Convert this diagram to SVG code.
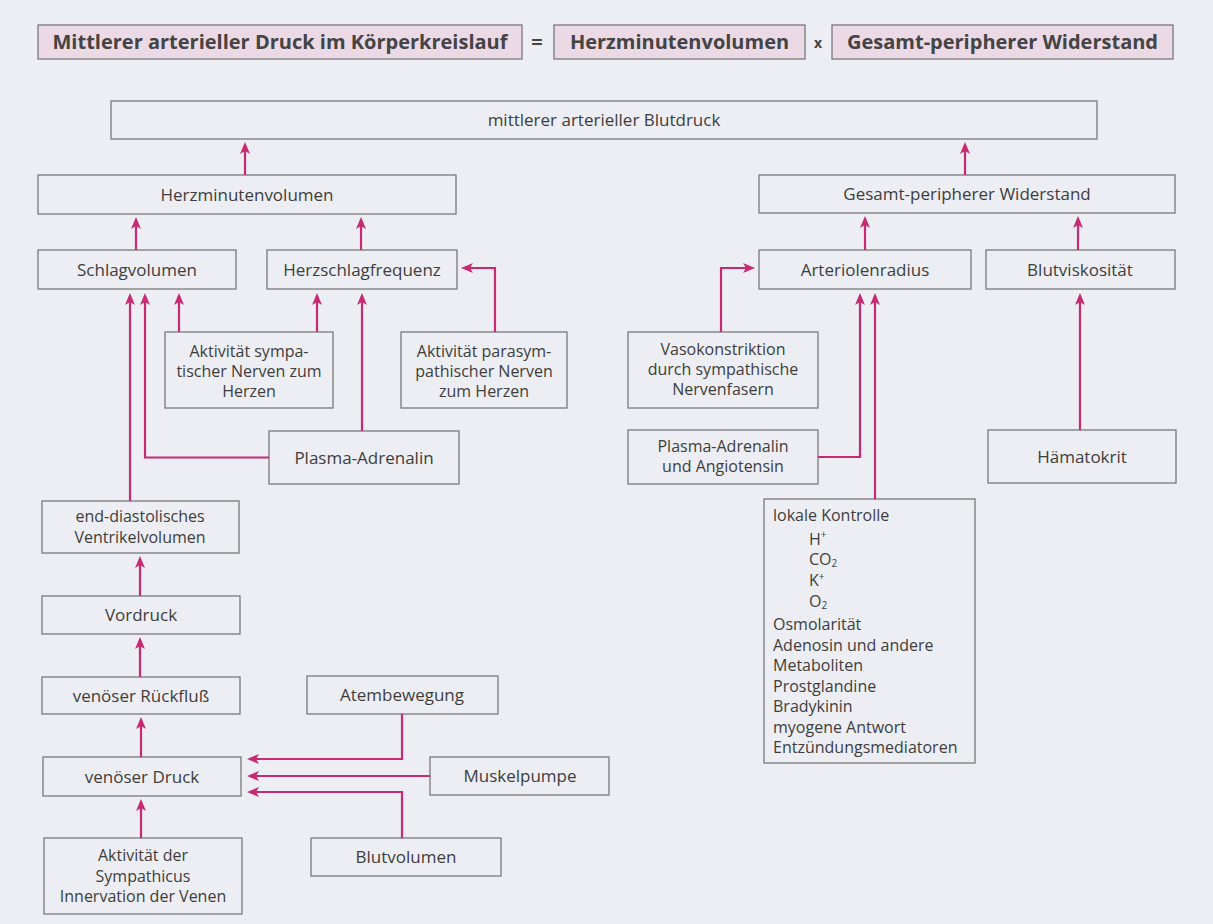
<svg xmlns="http://www.w3.org/2000/svg" width="1213" height="924" viewBox="0 0 1213 924">
<defs>
<style>
.bg{fill:#edeef3}
.box{fill:none;stroke:#707070;stroke-width:1.2}
.hbox{fill:#ebd9e6;stroke:#707070;stroke-width:1.2}
.t{font-family:"Open Sans","Liberation Sans",sans-serif;font-size:17px;fill:#3d3d3d;text-anchor:middle}
.m{font-size:16px}
.tl{font-family:"Open Sans","Liberation Sans",sans-serif;font-size:16px;fill:#3d3d3d}
.h{font-family:"Open Sans","Liberation Sans",sans-serif;font-size:20px;font-weight:bold;fill:#444;text-anchor:middle}
.c{fill:none;stroke:#c72a72;stroke-width:2.2}
.sm{font-size:10px}
</style>
<marker id="ah" viewBox="0 0 12 10" refX="9" refY="5" markerWidth="12" markerHeight="10" markerUnits="userSpaceOnUse" orient="auto">
<path d="M0,0 L12,5 L0,10 L3,5 Z" fill="#c72a72"/>
</marker>
</defs>
<rect class="bg" x="0" y="0" width="1213" height="924"/>

<g id="header">
<rect class="hbox" x="38" y="25" width="484" height="34"/>
<text class="h" x="280" y="49">Mittlerer arterieller Druck im Körperkreislauf</text>
<text class="h" x="537" y="49">=</text>
<rect class="hbox" x="554" y="25" width="251" height="34"/>
<text class="h" x="679.5" y="49">Herzminutenvolumen</text>
<text class="h" x="818" y="48" style="font-size:14px">x</text>
<rect class="hbox" x="832" y="25" width="341" height="34"/>
<text class="h" x="1002.5" y="49">Gesamt-peripherer Widerstand</text>
</g>

<g id="n-blutdruck"><rect class="box" x="111" y="101" width="986" height="38"/><text class="t" x="604" y="126">mittlerer arterieller Blutdruck</text></g>
<g id="n-hmv"><rect class="box" x="38" y="175" width="418" height="39"/><text class="t" x="247" y="200.5">Herzminutenvolumen</text></g>
<g id="n-gpw"><rect class="box" x="759" y="175" width="416" height="38"/><text class="t" x="967" y="200">Gesamt-peripherer Widerstand</text></g>
<g id="n-schlag"><rect class="box" x="38" y="250" width="198" height="39"/><text class="t" x="137" y="275.5">Schlagvolumen</text></g>
<g id="n-freq"><rect class="box" x="267" y="250" width="190" height="39"/><text class="t" x="362" y="275.5">Herzschlagfrequenz</text></g>
<g id="n-arteriolen"><rect class="box" x="759" y="250" width="212" height="39"/><text class="t" x="865" y="275.5">Arteriolenradius</text></g>
<g id="n-visk"><rect class="box" x="986" y="250" width="189" height="39"/><text class="t" x="1080" y="275.5">Blutviskosität</text></g>
<g id="n-sympa"><rect class="box" x="165" y="332" width="168" height="76"/><text class="t m" x="249" y="356.5">Aktivität sympa-</text><text class="t m" x="249" y="376.5">tischer Nerven zum</text><text class="t m" x="249" y="396.5">Herzen</text></g>
<g id="n-parasym"><rect class="box" x="401" y="332" width="166" height="76"/><text class="t m" x="484" y="356.5">Aktivität parasym-</text><text class="t m" x="484" y="376.5">pathischer Nerven</text><text class="t m" x="484" y="396.5">zum Herzen</text></g>
<g id="n-plasma"><rect class="box" x="269" y="431" width="190" height="53"/><text class="t" x="364" y="463.5">Plasma-Adrenalin</text></g>
<g id="n-vaso"><rect class="box" x="628" y="332" width="190" height="76"/><text class="t m" x="723" y="355">Vasokonstriktion</text><text class="t m" x="723" y="375">durch sympathische</text><text class="t m" x="723" y="395">Nervenfasern</text></g>
<g id="n-plasmaang"><rect class="box" x="628" y="430" width="190" height="54"/><text class="t m" x="723" y="451.5">Plasma-Adrenalin</text><text class="t m" x="723" y="471.5">und Angiotensin</text></g>
<g id="n-haemato"><rect class="box" x="988" y="430" width="188" height="53"/><text class="t" x="1082" y="462.5">Hämatokrit</text></g>
<g id="n-lokal"><rect class="box" x="764" y="499" width="211" height="264"/>
<text class="tl" x="773" y="521">lokale Kontrolle</text>
<text class="tl" x="809" y="545">H<tspan class="sm" dy="-7">+</tspan></text>
<text class="tl" x="809" y="565">CO<tspan class="sm" dy="2">2</tspan></text>
<text class="tl" x="809" y="585.5">K<tspan class="sm" dy="-6">+</tspan></text>
<text class="tl" x="809" y="606.5">O<tspan class="sm" dy="2">2</tspan></text>
<text class="tl" x="773" y="630">Osmolarität</text>
<text class="tl" x="773" y="651">Adenosin und andere</text>
<text class="tl" x="773" y="671">Metaboliten</text>
<text class="tl" x="773" y="692">Prostglandine</text>
<text class="tl" x="773" y="712">Bradykinin</text>
<text class="tl" x="773" y="733">myogene Antwort</text>
<text class="tl" x="773" y="753">Entzündungsmediatoren</text>
</g>
<g id="n-edv"><rect class="box" x="42" y="501" width="197" height="52"/><text class="t m" x="140" y="522">end-diastolisches</text><text class="t m" x="140" y="543">Ventrikelvolumen</text></g>
<g id="n-vordruck"><rect class="box" x="42" y="596" width="198" height="38"/><text class="t" x="141" y="621">Vordruck</text></g>
<g id="n-rueckfluss"><rect class="box" x="42" y="677" width="198" height="37"/><text class="t" x="141" y="701.5">venöser Rückfluß</text></g>
<g id="n-atem"><rect class="box" x="307" y="676" width="191" height="38"/><text class="t" x="402" y="701">Atembewegung</text></g>
<g id="n-druck"><rect class="box" x="43" y="757" width="198" height="39"/><text class="t" x="142" y="782.5">venöser Druck</text></g>
<g id="n-muskel"><rect class="box" x="430" y="757" width="179" height="38"/><text class="t" x="520" y="782">Muskelpumpe</text></g>
<g id="n-blutvol"><rect class="box" x="311" y="838" width="190" height="38"/><text class="t" x="406" y="863">Blutvolumen</text></g>
<g id="n-symvenen"><rect class="box" x="44" y="838" width="198" height="76"/><text class="t m" x="143" y="861">Aktivität der</text><text class="t m" x="143" y="882">Sympathicus</text><text class="t m" x="143" y="902">Innervation der Venen</text></g>

<g id="connectors">
<path class="c" marker-end="url(#ah)" d="M245,175 V145"/>
<path class="c" marker-end="url(#ah)" d="M965,175 V145"/>
<path class="c" marker-end="url(#ah)" d="M136,250 V220"/>
<path class="c" marker-end="url(#ah)" d="M361,250 V220"/>
<path class="c" marker-end="url(#ah)" d="M865,250 V219"/>
<path class="c" marker-end="url(#ah)" d="M1078,250 V219"/>
<path class="c" marker-end="url(#ah)" d="M179,332 V296"/>
<path class="c" marker-end="url(#ah)" d="M317,332 V296"/>
<path class="c" marker-end="url(#ah)" d="M495,332 V268 H464"/>
<path class="c" marker-end="url(#ah)" d="M269,457.5 H145 V296"/>
<path class="c" marker-end="url(#ah)" d="M362,431 V296"/>
<path class="c" marker-end="url(#ah)" d="M130,501 V296"/>
<path class="c" marker-end="url(#ah)" d="M140,596 V559"/>
<path class="c" marker-end="url(#ah)" d="M140,677 V640"/>
<path class="c" marker-end="url(#ah)" d="M141,757 V720"/>
<path class="c" marker-end="url(#ah)" d="M141,838 V802"/>
<path class="c" marker-end="url(#ah)" d="M402,714 V759 H250"/>
<path class="c" marker-end="url(#ah)" d="M430,776 H250"/>
<path class="c" marker-end="url(#ah)" d="M402,838 V792 H250"/>
<path class="c" marker-end="url(#ah)" d="M721,332 V268 H752"/>
<path class="c" marker-end="url(#ah)" d="M818,457 H860 V296"/>
<path class="c" marker-end="url(#ah)" d="M875,499 V296"/>
<path class="c" marker-end="url(#ah)" d="M1080,430 V296"/>
</g>
</svg>
